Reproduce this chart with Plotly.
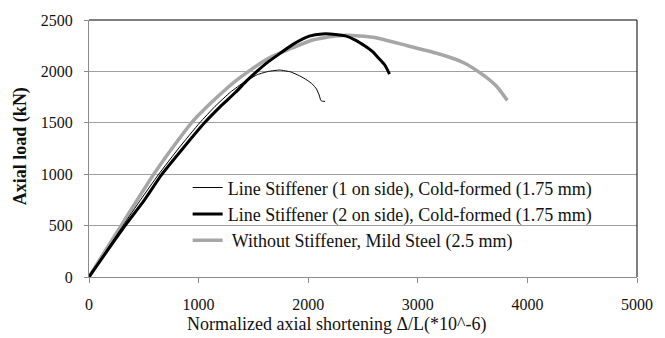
import plotly.graph_objects as go

# ---- data ----
thin_x = [0, 150, 310, 470, 636, 820, 1010, 1150, 1290, 1420, 1540, 1637, 1741, 1840, 1920, 1990, 2040, 2075, 2100, 2115, 2130, 2154]
thin_y = [0, 245, 500, 750, 1000, 1255, 1500, 1660, 1798, 1900, 1970, 2000, 2013, 1995, 1958, 1915, 1875, 1830, 1770, 1718, 1710, 1708]

thick_x = [0, 160, 329, 500, 666, 860, 1054, 1200, 1340, 1440, 1532, 1620, 1711, 1861, 2010, 2130, 2250, 2339, 2430, 2518, 2590, 2637, 2700, 2742]
thick_y = [0, 245, 500, 740, 1000, 1255, 1500, 1660, 1800, 1910, 2000, 2080, 2151, 2263, 2343, 2365, 2360, 2345, 2305, 2247, 2190, 2135, 2060, 1974]

gray_x = [0, 145, 293, 440, 591, 760, 935, 1080, 1210, 1330, 1443, 1550, 1651, 1861, 2040, 2249, 2400, 2608, 2906, 3205, 3414, 3563, 3712, 3817]
gray_y = [0, 250, 500, 750, 1000, 1255, 1500, 1660, 1790, 1900, 1990, 2070, 2135, 2231, 2305, 2345, 2350, 2330, 2250, 2167, 2087, 1990, 1862, 1718]

names = [
    "Line Stiffener (1 on side), Cold-formed (1.75 mm)",
    "Line Stiffener (2 on side), Cold-formed (1.75 mm)",
    " Without Stiffener, Mild Steel (2.5 mm)",
]

x_ticks = [0, 1000, 2000, 3000, 4000, 5000]
y_ticks = [0, 500, 1000, 1500, 2000, 2500]

FONT = "Times New Roman, Liberation Serif, serif"
TXT = "#111111"

fig = go.Figure()
fig.add_trace(go.Scatter(x=gray_x, y=gray_y, mode="lines", name=names[2],
                         line=dict(color="#a6a6a6", width=3.5, shape="spline", smoothing=0.5)))
fig.add_trace(go.Scatter(x=thick_x, y=thick_y, mode="lines", name=names[1],
                         line=dict(color="#000000", width=3, shape="spline", smoothing=0.5)))
fig.add_trace(go.Scatter(x=thin_x, y=thin_y, mode="lines", name=names[0],
                         line=dict(color="#000000", width=1, shape="spline", smoothing=0.4)))

fig.update_layout(
    width=665, height=338,
    margin=dict(l=89, r=18, t=17, b=61),
    paper_bgcolor="white", plot_bgcolor="white",
    font=dict(family=FONT, size=16, color=TXT),
    showlegend=True,
    legend=dict(x=0.18, y=0.419, xanchor="left", yanchor="top",
                bgcolor="rgba(0,0,0,0)", traceorder="reversed",
                font=dict(family=FONT, size=18, color=TXT),
                itemwidth=30, tracegroupgap=0),
    xaxis=dict(range=[0, 5000], tickvals=x_ticks, ticktext=[str(v) for v in x_ticks],
               showgrid=False, zeroline=False, showline=True, linecolor="#8c8c8c", linewidth=1,
               ticks="outside", ticklen=5, tickcolor="#8c8c8c",
               tickfont=dict(family=FONT, size=16, color=TXT), ticklabelstandoff=8),
    yaxis=dict(range=[0, 2500], tickvals=y_ticks, ticktext=[str(v) for v in y_ticks],
               showgrid=True, gridcolor="#a0a0a0", gridwidth=1, zeroline=False,
               showline=True, linecolor="#8c8c8c", linewidth=1,
               ticks="outside", ticklen=4, tickcolor="#8c8c8c",
               tickfont=dict(family=FONT, size=16, color=TXT), ticklabelstandoff=8),
)

# plot area border (top and right, black)
fig.add_shape(type="line", xref="paper", yref="paper", x0=0, x1=1, y0=1, y1=1,
              line=dict(color="#000000", width=1))
fig.add_shape(type="line", xref="paper", yref="paper", x0=1, x1=1, y0=0, y1=1,
              line=dict(color="#000000", width=1))

fig.add_annotation(text="Normalized axial shortening \u0394/L(*10^-6)", xref="paper", yref="paper",
                   x=0.4516, y=-0.185, xanchor="center", yanchor="middle", showarrow=False,
                   font=dict(family=FONT, size=18, color=TXT))
fig.add_annotation(text="<b>Axial load (kN)</b>", xref="paper", yref="paper",
                   x=-0.1237, y=0.51, xanchor="center", yanchor="middle", showarrow=False,
                   textangle=-90, font=dict(family=FONT, size=18, color=TXT))

fig.write_html("out.html")
